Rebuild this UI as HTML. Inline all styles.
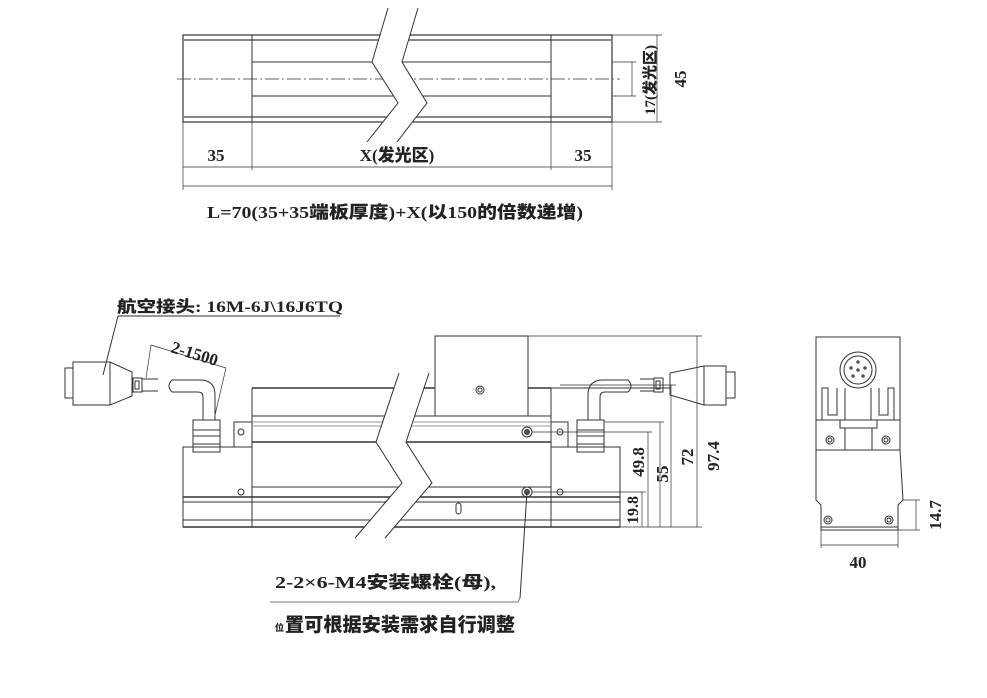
<!DOCTYPE html>
<html><head><meta charset="utf-8"><style>
html,body{margin:0;padding:0;background:#fff;}
svg{display:block;}
text{font-family:"Liberation Serif","Noto Sans CJK SC",serif;font-weight:bold;fill:#222;}
.cj{font-family:"Liberation Serif","Noto Sans CJK SC",sans-serif;font-weight:900;}
</style></head><body>
<svg width="987" height="698" viewBox="0 0 987 698" xmlns="http://www.w3.org/2000/svg">
<g stroke="#333" fill="none" stroke-width="1">
<!-- TOP VIEW -->
<rect x="183" y="35" width="429" height="87" stroke-width="1.2"/>
<line x1="183" y1="40" x2="612" y2="40" stroke="#888" stroke-width="2"/>
<line x1="183" y1="117" x2="612" y2="117" stroke="#888" stroke-width="2"/>
<line x1="252" y1="35" x2="252" y2="122"/>
<line x1="551" y1="35" x2="551" y2="122"/>
<line x1="252" y1="62" x2="551" y2="62"/>
<line x1="252" y1="96" x2="551" y2="96"/>
<line x1="177" y1="79" x2="620" y2="79" stroke-dasharray="14,3,2,3" stroke-width="0.8"/>
<polygon points="388,8 418,8 402,62 427,103 397,142 367,142 398,103 372,62" fill="#fff" stroke="none"/>
<polyline points="388,8 372,62 398,103 367,142"/>
<polyline points="418,8 402,62 427,103 397,142"/>
<!-- top dims -->
<line x1="183" y1="122" x2="183" y2="190" stroke-width="0.7"/>
<line x1="252" y1="122" x2="252" y2="170" stroke-width="0.7"/>
<line x1="551" y1="122" x2="551" y2="170" stroke-width="0.7"/>
<line x1="612" y1="122" x2="612" y2="190" stroke-width="0.7"/>
<line x1="183" y1="167" x2="612" y2="167" stroke-width="0.7"/>
<line x1="183" y1="186" x2="612" y2="186" stroke-width="0.7"/>
<line x1="612" y1="35" x2="662" y2="35" stroke-width="0.7"/>
<line x1="612" y1="122" x2="662" y2="122" stroke-width="0.7"/>
<line x1="612" y1="62" x2="636" y2="62" stroke-width="0.7"/>
<line x1="612" y1="96" x2="636" y2="96" stroke-width="0.7"/>
<line x1="632" y1="62" x2="632" y2="96" stroke-width="0.7"/>
<line x1="657" y1="35" x2="657" y2="122" stroke-width="0.7"/>

<!-- FRONT VIEW -->
<rect x="435" y="336" width="93" height="80" fill="#fff"/>
<circle cx="480" cy="390" r="4"/><circle cx="480" cy="390" r="2"/>
<line x1="252" y1="388" x2="435" y2="388" stroke-width="1.5"/>
<line x1="528" y1="388" x2="551" y2="388" stroke-width="1.5"/>
<line x1="252" y1="388" x2="252" y2="527"/>
<line x1="551" y1="388" x2="551" y2="527"/>
<line x1="252" y1="416" x2="551" y2="416"/>
<line x1="234" y1="422" x2="568" y2="422" stroke="#999"/>
<line x1="252" y1="426" x2="551" y2="426" stroke="#999"/>
<line x1="252" y1="442" x2="551" y2="442" stroke-width="1.5"/>
<line x1="252" y1="487" x2="551" y2="487"/>
<line x1="183" y1="497" x2="620" y2="497" stroke-width="1.5"/>
<line x1="183" y1="502" x2="620" y2="502"/>
<line x1="183" y1="520" x2="620" y2="520"/>
<rect x="183" y="447" width="69" height="80"/>
<rect x="551" y="447" width="69" height="80"/>
<polyline points="234,447 234,422 252,422"/>
<polyline points="568,447 568,422 551,422"/>
<line x1="183" y1="527" x2="620" y2="527" stroke-width="1.5"/>
<circle cx="241" cy="432" r="3"/><circle cx="241" cy="492" r="3"/>
<circle cx="560" cy="432" r="3"/><circle cx="560" cy="492" r="3"/>
<rect x="456" y="503" width="5" height="11" rx="2.5"/>
<circle cx="527" cy="432" r="5"/><circle cx="527" cy="432" r="2.5" fill="#555"/>
<circle cx="527" cy="492" r="5"/><circle cx="527" cy="492" r="2.5" fill="#555"/>
<polygon points="399,373 429,373 406,442 432,483 385,538 355,538 402,483 376,442" fill="#fff" stroke="none"/>
<polyline points="399,373 376,442 402,483 355,538"/>
<polyline points="429,373 406,442 432,483 385,538"/>
<!-- left connector -->
<rect x="65" y="368" width="8" height="30"/>
<polygon points="73,362 110,362 132,372 132,396 110,405 73,405"/>
<line x1="110" y1="362" x2="110" y2="405"/>
<rect x="133" y="378" width="9" height="14"/><rect x="135" y="381" width="4" height="8"/>
<line x1="142" y1="379" x2="158" y2="379"/><line x1="142" y1="391" x2="158" y2="391"/>
<path d="M172,380 L200,380 Q215,380 215,395 L215,420 M172,392 L198,392 Q203,392 203,397 L203,420"/>
<path d="M172,380 Q166,386 172,392"/>
<rect x="193" y="420" width="27" height="32"/>
<line x1="193" y1="430" x2="220" y2="430"/><line x1="193" y1="436" x2="220" y2="436"/><line x1="193" y1="444" x2="220" y2="444"/>
<!-- right connector -->
<rect x="726" y="372" width="9" height="26"/>
<polygon points="704,366 726,366 726,405 704,405 670,395 670,373"/>
<line x1="704" y1="366" x2="704" y2="405"/>
<rect x="654" y="378" width="9" height="14"/><rect x="656" y="381" width="4" height="8"/>
<line x1="640" y1="379" x2="654" y2="379"/><line x1="640" y1="391" x2="654" y2="391"/>
<path d="M628,380 L603,380 Q588,380 588,395 L588,420 M628,392 L605,392 Q600,392 600,397 L600,420"/>
<path d="M628,380 Q634,386 628,392"/>
<line x1="528" y1="388" x2="670" y2="388"/>
<rect x="577" y="420" width="27" height="32"/>
<line x1="577" y1="430" x2="604" y2="430"/><line x1="577" y1="436" x2="604" y2="436"/><line x1="577" y1="444" x2="604" y2="444"/>
<!-- leader lines -->
<polyline points="340,316 118,316 103,375"/>
<line x1="151" y1="345" x2="226" y2="368" stroke-width="0.7"/>
<line x1="151" y1="345" x2="146" y2="378" stroke-width="0.7"/>
<line x1="226" y1="368" x2="215" y2="415" stroke-width="0.7"/>
<line x1="527" y1="492" x2="520" y2="598"/>
<polyline points="520,598 518,602 270,602" stroke="#777"/>
<!-- right dims -->
<g stroke-width="0.7">
<line x1="620" y1="527" x2="702" y2="527"/>
<line x1="528" y1="336" x2="702" y2="336"/>
<line x1="560" y1="385" x2="676" y2="385"/>
<line x1="604" y1="422" x2="664" y2="422"/>
<line x1="532" y1="432" x2="652" y2="432"/>
<line x1="532" y1="492" x2="646" y2="492"/>
<line x1="642" y1="492" x2="642" y2="527"/>
<line x1="648" y1="432" x2="648" y2="527"/>
<line x1="660" y1="422" x2="660" y2="527"/>
<line x1="671" y1="385" x2="671" y2="527"/>
<line x1="697" y1="336" x2="697" y2="527"/>
</g>
<!-- SIDE VIEW -->
<rect x="816" y="337" width="84" height="113"/>
<line x1="816" y1="420" x2="900" y2="420"/>
<circle cx="858" cy="370" r="18"/><circle cx="858" cy="370" r="14"/>
<g fill="#555" stroke="none"><circle cx="858" cy="362" r="1.8"/><circle cx="851" cy="368" r="1.8"/><circle cx="865" cy="368" r="1.8"/><circle cx="858" cy="370" r="1.8"/><circle cx="853" cy="376" r="1.8"/><circle cx="863" cy="376" r="1.8"/></g>
<polyline points="822,420 822,388 828,388 828,415 837,415 837,388"/>
<polyline points="894,420 894,388 888,388 888,415 879,415 879,388"/>
<line x1="845" y1="388" x2="845" y2="420"/><line x1="871" y1="388" x2="871" y2="420"/>
<rect x="840" y="420" width="37" height="8"/>
<rect x="845" y="428" width="27" height="22"/>
<circle cx="830" cy="440" r="4"/><circle cx="830" cy="440" r="2"/>
<circle cx="886" cy="440" r="4"/><circle cx="886" cy="440" r="2"/>
<polyline points="816,450 816,500 821,505 821,530 898,530 898,505 903,500 900,450"/>
<line x1="821" y1="527" x2="898" y2="527"/>
<circle cx="828" cy="520" r="4"/><circle cx="828" cy="520" r="2"/>
<circle cx="889" cy="520" r="4"/><circle cx="889" cy="520" r="2"/>
<g stroke-width="0.7">
<line x1="821" y1="530" x2="821" y2="548"/><line x1="898" y1="530" x2="898" y2="548"/>
<line x1="821" y1="545" x2="898" y2="545"/>
<line x1="903" y1="500" x2="920" y2="500"/><line x1="898" y1="530" x2="920" y2="530"/>
<line x1="916" y1="500" x2="916" y2="530"/>
</g>
</g>
<!-- texts -->
<text x="216" y="161" font-size="17" text-anchor="middle">35</text>
<text class="cj" x="397" y="161" font-size="17" text-anchor="middle">X(发光区)</text>
<text x="583" y="161" font-size="17" text-anchor="middle">35</text>
<text class="cj" x="395" y="218" font-size="17" text-anchor="middle" textLength="376" lengthAdjust="spacingAndGlyphs">L=70(35+35端板厚度)+X(以150的倍数递增)</text>
<text class="cj" transform="translate(655,80) rotate(-90)" font-size="15" text-anchor="middle">17(发光区)</text>
<text transform="translate(686,79) rotate(-90)" font-size="17" text-anchor="middle">45</text>
<text class="cj" x="117" y="312" font-size="16" textLength="226" lengthAdjust="spacingAndGlyphs">航空接头: 16M-6J\16J6TQ</text>
<text transform="translate(170,352) rotate(17)" font-size="17">2-1500</text>
<text transform="translate(638,510) rotate(-90)" font-size="16" text-anchor="middle">19.8</text>
<text transform="translate(644,462) rotate(-90)" font-size="17" text-anchor="middle">49.8</text>
<text transform="translate(668,474) rotate(-90)" font-size="17" text-anchor="middle">55</text>
<text transform="translate(693,457) rotate(-90)" font-size="17" text-anchor="middle">72</text>
<text transform="translate(719,456) rotate(-90)" font-size="17" text-anchor="middle">97.4</text>
<text x="858" y="568" font-size="17" text-anchor="middle">40</text>
<text transform="translate(941,515) rotate(-90)" font-size="17" text-anchor="middle">14.7</text>
<text class="cj" x="275" y="588" font-size="17" textLength="221" lengthAdjust="spacingAndGlyphs">2-2×6-M4安装螺栓(母),</text>
<text class="cj" x="275" y="631" font-size="9">位</text><text class="cj" x="285" y="631" font-size="19" textLength="230" lengthAdjust="spacingAndGlyphs">置可根据安装需求自行调整</text>
</svg>
</body></html>
